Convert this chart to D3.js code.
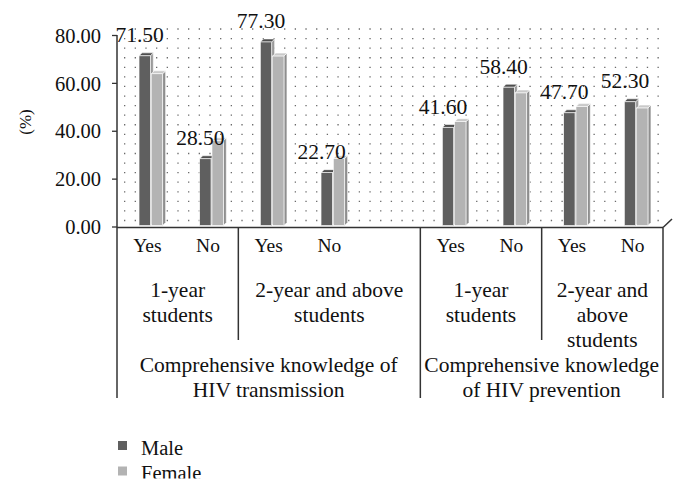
<!DOCTYPE html>
<html><head><meta charset="utf-8">
<script src="https://cdn.jsdelivr.net/npm/d3@7"></script>
<style>body{margin:0;background:#fff;} svg{display:block;}</style>
</head><body>
<svg id="c" width="686" height="493"></svg>
<script>
// ---- data ----
const slots = ["t1Yes","t1No","t2Yes","t2No","gap","p1Yes","p1No","p2Yes","p2No"];
const answerLabels = ["Yes","No","Yes","No","","Yes","No","Yes","No"];
const categories = ["t1Yes","t1No","t2Yes","t2No","p1Yes","p1No","p2Yes","p2No"];
const maleValues = [71.5, 28.5, 77.3, 22.7, 41.6, 58.4, 47.7, 52.3];
const femaleValues = [64.0, 36.0, 71.4, 28.6, 44.0, 56.0, 50.3, 49.7];
const seriesNames = ["Male", "Female"];
const yTicks = [0, 20, 40, 60, 80];
const studentGroupLabels = [["1-year","students"], ["2-year and above","students"], ["1-year","students"], ["2-year and","above","students"]];
const studentGroupSpans = [[0,2],[2,5],[5,7],[7,9]];
const topicGroupLabels = [["Comprehensive knowledge of","HIV transmission"], ["Comprehensive knowledge","of HIV prevention"]];
const topicGroupSpans = [[0,5],[5,9]];
const yTitle = "(%)";

// ---- layout ----
const svg = d3.select("#c");
const font = "'Liberation Serif','Times New Roman',serif";
const ink = "#111";
const x = d3.scaleBand().domain(slots).range([117, 663]).padding(0);
const bw = x.bandwidth();
const y = d3.scaleLinear().domain([0, 80]).range([227, 35.5]);
const edge = i => i < slots.length ? x(slots[i]) : x.range()[1];
const depth = 3;
const barW = 11.3;

// dotted back wall grid
const gridVals = d3.range(0, 81, 4);
svg.append("g").selectAll("line").data(gridVals).join("line")
  .attr("x1", 124).attr("x2", 668)
  .attr("y1", d => y(d) - 6.5).attr("y2", d => y(d) - 6.5)
  .attr("stroke", "#6a6a6a").attr("stroke-width", 1.3)
  .attr("stroke-dasharray", "1.3 9.37");

// bars
const palette = {
  Male:   {front: "#5f5f5f", top: "#4e4e4e", side: "#9a9a9a"},
  Female: {front: "#b3b3b3", top: "#c9c9c9", side: "#8e8e8e"}
};
const rows = [];
categories.forEach((c, i) => {
  rows.push({cat: c, s: "Male", v: maleValues[i], off: -8.3});
  rows.push({cat: c, s: "Female", v: femaleValues[i], off: -8.3 + barW + 1});
});
const yb = y(0) - 1.5;
const bars = svg.append("g").selectAll("g").data(rows).join("g");
bars.each(function(d) {
  const g = d3.select(this);
  const x0 = x(d.cat) + bw / 2 + d.off, x1 = x0 + barW, yt = y(d.v);
  const col = palette[d.s];
  g.append("polygon")
    .attr("points", [[x1, yt], [x1 + depth, yt - depth], [x1 + depth, yb - depth], [x1, yb]].join(" "))
    .attr("fill", col.side).attr("stroke", "#ffffff").attr("stroke-width", 0.6);
  g.append("polygon")
    .attr("points", [[x0, yt], [x0 + depth, yt - depth], [x1 + depth, yt - depth], [x1, yt]].join(" "))
    .attr("fill", col.top).attr("stroke", "#ffffff").attr("stroke-width", 0.6);
  g.append("rect").attr("x", x0).attr("y", yt).attr("width", barW).attr("height", yb - yt)
    .attr("fill", col.front).attr("stroke", "#ffffff").attr("stroke-width", 0.6);
});

// value labels (male)
svg.append("g").selectAll("text").data(categories).join("text")
  .attr("x", (c) => x(c) + bw / 2 - 8.3 + barW / 2 - 5)
  .attr("y", (c, i) => y(maleValues[i]) - 13.5)
  .attr("text-anchor", "middle").attr("font-family", font).attr("font-size", 21.5)
  .attr("fill", ink).text((c, i) => maleValues[i].toFixed(2));

// y axis ticks & labels
const axisColor = "#333";
const yAxis = svg.append("g");
yAxis.selectAll("line").data(yTicks).join("line")
  .attr("x1", 112).attr("x2", 117).attr("y1", d => y(d)).attr("y2", d => y(d))
  .attr("stroke", axisColor).attr("stroke-width", 1.3);
yAxis.selectAll("text").data(yTicks).join("text")
  .attr("x", 101).attr("y", d => y(d)).attr("dy", "0.35em")
  .attr("text-anchor", "end").attr("font-family", font).attr("font-size", 20.5)
  .attr("fill", ink).text(d => d.toFixed(2));

svg.append("text").attr("transform", "translate(31,122) rotate(-90)")
  .attr("text-anchor", "middle").attr("font-family", font).attr("font-size", 17)
  .attr("fill", ink).text(yTitle);

// frame lines
const lines = [
  [117, 35, 117, 398],
  [edge(2), 227.5, edge(2), 340],
  [edge(7), 227.5, edge(7), 340],
  [edge(5), 227.5, edge(5), 398],
  [edge(9), 227.5, edge(9), 398],
  [117, 227.5, edge(9), 227.5],
  [edge(9), 227.5, edge(9) + 9, 219]
];
svg.append("g").selectAll("line").data(lines).join("line")
  .attr("x1", d => d[0]).attr("y1", d => d[1]).attr("x2", d => d[2]).attr("y2", d => d[3])
  .attr("stroke", axisColor).attr("stroke-width", 1.5);

// answer labels
svg.append("g").selectAll("text").data(slots).join("text")
  .attr("x", s => x(s) + bw / 2).attr("y", 251.5)
  .attr("text-anchor", "middle").attr("font-family", font).attr("font-size", 19.5)
  .attr("fill", ink).text((s, i) => answerLabels[i]);

// group labels
function groupText(labels, spans, baseY, size) {
  labels.forEach((lns, i) => {
    const cx = (edge(spans[i][0]) + edge(spans[i][1])) / 2;
    const t = svg.append("text").attr("text-anchor", "middle")
      .attr("font-family", font).attr("font-size", size).attr("fill", ink);
    lns.forEach((ln, j) => t.append("tspan").attr("x", cx).attr("y", baseY + j * 25).text(ln));
  });
}
groupText(studentGroupLabels, studentGroupSpans, 296.5, 21.5);
groupText(topicGroupLabels, topicGroupSpans, 372, 21.5);

// legend
const leg = svg.append("g");
seriesNames.forEach((s, i) => {
  leg.append("rect").attr("x", 118).attr("y", 441 + i * 25.5).attr("width", 9).attr("height", 9)
    .attr("fill", palette[s].front);
  leg.append("text").attr("x", 141).attr("y", 454.5 + i * 25.5)
    .attr("font-family", font).attr("font-size", 20.5).attr("fill", ink).text(s);
});
// picture is cropped at the bottom
svg.append("rect").attr("x", 0).attr("y", 478.5).attr("width", 686).attr("height", 15).attr("fill", "#fff");
</script>
</body></html>
